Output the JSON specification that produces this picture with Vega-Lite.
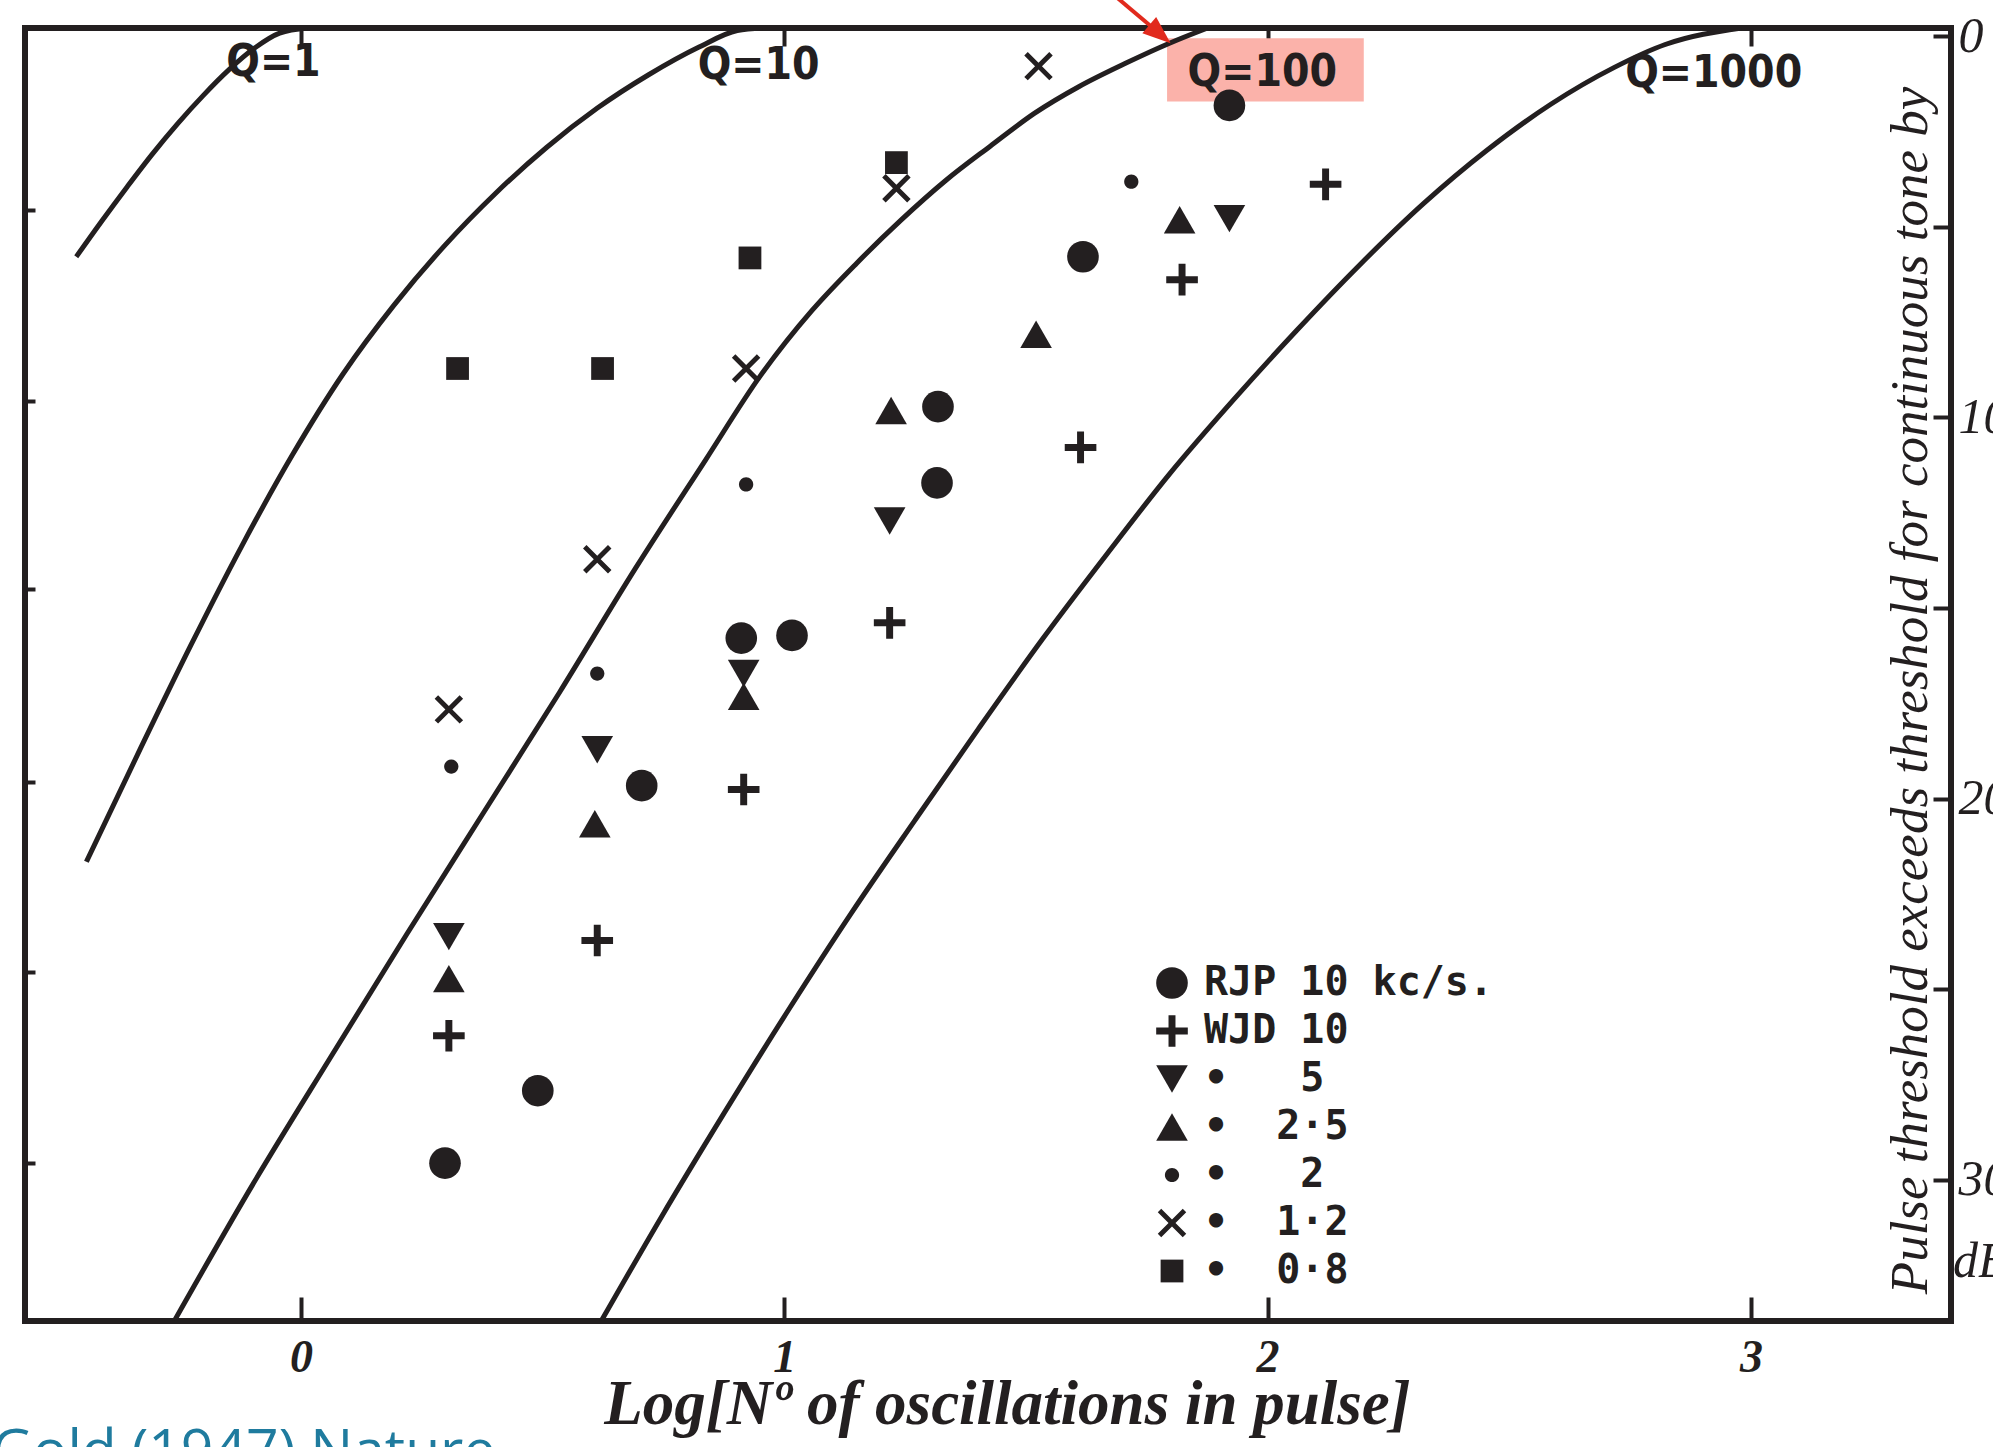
{
  "$schema": "https://vega.github.io/schema/vega-lite/v6.json",
  "width": 1926,
  "height": 1293,
  "autosize": "none",
  "padding": {"left": 25, "top": 28, "right": 42, "bottom": 126},
  "background": "white",
  "config": {
    "view": {"stroke": "#231f20", "strokeWidth": 6},
    "axis": {"domain": false, "grid": false, "tickColor": "#231f20", "tickWidth": 4, "labelColor": "#231f20", "titleColor": "#231f20", "zindex": 1, "labelFlush": false, "labelOverlap": false, "labelBound": false}
  },
  "datasets": {
    "curves": [
      {"q": "1", "i": 0, "x": -0.465, "y": 5.79},
      {"q": "1", "i": 1, "x": -0.4124, "y": 4.857},
      {"q": "1", "i": 2, "x": -0.3598, "y": 3.957},
      {"q": "1", "i": 3, "x": -0.3072, "y": 3.09},
      {"q": "1", "i": 4, "x": -0.2546, "y": 2.29},
      {"q": "1", "i": 5, "x": -0.202, "y": 1.557},
      {"q": "1", "i": 6, "x": -0.1494, "y": 0.89},
      {"q": "1", "i": 7, "x": -0.0968, "y": 0.323},
      {"q": "1", "i": 8, "x": -0.0442, "y": -0.077},
      {"q": "1", "i": 9, "x": 0.0137, "y": -0.21},
      {"q": "10", "i": 0, "x": -0.444, "y": 21.657},
      {"q": "10", "i": 1, "x": -0.3335, "y": 18.723},
      {"q": "10", "i": 2, "x": -0.2283, "y": 15.99},
      {"q": "10", "i": 3, "x": -0.1231, "y": 13.39},
      {"q": "10", "i": 4, "x": -0.0179, "y": 10.99},
      {"q": "10", "i": 5, "x": 0.0873, "y": 8.857},
      {"q": "10", "i": 6, "x": 0.1925, "y": 7.057},
      {"q": "10", "i": 7, "x": 0.2977, "y": 5.49},
      {"q": "10", "i": 8, "x": 0.4029, "y": 4.123},
      {"q": "10", "i": 9, "x": 0.5081, "y": 2.923},
      {"q": "10", "i": 10, "x": 0.6133, "y": 1.89},
      {"q": "10", "i": 11, "x": 0.7185, "y": 1.023},
      {"q": "10", "i": 12, "x": 0.8237, "y": 0.29},
      {"q": "10", "i": 13, "x": 0.9027, "y": -0.143},
      {"q": "10", "i": 14, "x": 0.9553, "y": -0.21},
      {"q": "100", "i": 0, "x": -0.2622, "y": 33.7},
      {"q": "100", "i": 1, "x": -0.0968, "y": 30.057},
      {"q": "100", "i": 2, "x": 0.061, "y": 26.79},
      {"q": "100", "i": 3, "x": 0.2188, "y": 23.557},
      {"q": "100", "i": 4, "x": 0.3766, "y": 20.39},
      {"q": "100", "i": 5, "x": 0.5345, "y": 17.223},
      {"q": "100", "i": 6, "x": 0.6923, "y": 13.957},
      {"q": "100", "i": 7, "x": 0.837, "y": 11.12},
      {"q": "100", "i": 8, "x": 0.95, "y": 8.92},
      {"q": "100", "i": 9, "x": 1.0579, "y": 7.19},
      {"q": "100", "i": 10, "x": 1.1499, "y": 5.957},
      {"q": "100", "i": 11, "x": 1.242, "y": 4.823},
      {"q": "100", "i": 12, "x": 1.334, "y": 3.79},
      {"q": "100", "i": 13, "x": 1.4261, "y": 2.89},
      {"q": "100", "i": 14, "x": 1.5181, "y": 2.023},
      {"q": "100", "i": 15, "x": 1.6102, "y": 1.323},
      {"q": "100", "i": 16, "x": 1.7049, "y": 0.723},
      {"q": "100", "i": 17, "x": 1.797, "y": 0.19},
      {"q": "100", "i": 18, "x": 1.8759, "y": -0.21},
      {"q": "1000", "i": 0, "x": 0.6213, "y": 33.7},
      {"q": "1000", "i": 1, "x": 0.7449, "y": 30.99},
      {"q": "1000", "i": 2, "x": 0.8764, "y": 28.23},
      {"q": "1000", "i": 3, "x": 1.0079, "y": 25.557},
      {"q": "1000", "i": 4, "x": 1.1394, "y": 22.99},
      {"q": "1000", "i": 5, "x": 1.2709, "y": 20.557},
      {"q": "1000", "i": 6, "x": 1.4024, "y": 18.157},
      {"q": "1000", "i": 7, "x": 1.5339, "y": 15.823},
      {"q": "1000", "i": 8, "x": 1.6654, "y": 13.623},
      {"q": "1000", "i": 9, "x": 1.7969, "y": 11.49},
      {"q": "1000", "i": 10, "x": 1.9284, "y": 9.557},
      {"q": "1000", "i": 11, "x": 2.06, "y": 7.723},
      {"q": "1000", "i": 12, "x": 2.1915, "y": 5.99},
      {"q": "1000", "i": 13, "x": 2.323, "y": 4.39},
      {"q": "1000", "i": 14, "x": 2.4545, "y": 2.99},
      {"q": "1000", "i": 15, "x": 2.586, "y": 1.79},
      {"q": "1000", "i": 16, "x": 2.7175, "y": 0.823},
      {"q": "1000", "i": 17, "x": 2.8227, "y": 0.223},
      {"q": "1000", "i": 18, "x": 2.9806, "y": -0.21}
    ],
    "points": [
      {"s": "RJP 10", "x": 1.921, "y": 1.82},
      {"s": "RJP 10", "x": 1.618, "y": 5.79},
      {"s": "RJP 10", "x": 1.318, "y": 9.72},
      {"s": "RJP 10", "x": 1.316, "y": 11.72},
      {"s": "RJP 10", "x": 0.911, "y": 15.79},
      {"s": "RJP 10", "x": 1.016, "y": 15.72},
      {"s": "RJP 10", "x": 0.705, "y": 19.66},
      {"s": "RJP 10", "x": 0.49, "y": 27.66},
      {"s": "RJP 10", "x": 0.298, "y": 29.56},
      {"s": "WJD 10", "x": 2.12, "y": 3.89},
      {"s": "WJD 10", "x": 1.823, "y": 6.39},
      {"s": "WJD 10", "x": 1.613, "y": 10.79},
      {"s": "WJD 10", "x": 1.218, "y": 15.39},
      {"s": "WJD 10", "x": 0.916, "y": 19.76},
      {"s": "WJD 10", "x": 0.613, "y": 23.72},
      {"s": "WJD 10", "x": 0.306, "y": 26.22},
      {"s": "WJD 5", "x": 1.921, "y": 4.79},
      {"s": "WJD 5", "x": 1.218, "y": 12.72},
      {"s": "WJD 5", "x": 0.916, "y": 16.72},
      {"s": "WJD 5", "x": 0.613, "y": 18.72},
      {"s": "WJD 5", "x": 0.306, "y": 23.62},
      {"s": "WJD 2.5", "x": 1.818, "y": 4.82},
      {"s": "WJD 2.5", "x": 1.521, "y": 7.82},
      {"s": "WJD 2.5", "x": 1.221, "y": 9.82},
      {"s": "WJD 2.5", "x": 0.916, "y": 17.32},
      {"s": "WJD 2.5", "x": 0.608, "y": 20.66},
      {"s": "WJD 2.5", "x": 0.306, "y": 24.72},
      {"s": "WJD 2", "x": 1.718, "y": 3.82},
      {"s": "WJD 2", "x": 0.921, "y": 11.76},
      {"s": "WJD 2", "x": 0.613, "y": 16.72},
      {"s": "WJD 2", "x": 0.311, "y": 19.16},
      {"s": "WJD 1.2", "x": 1.526, "y": 0.79},
      {"s": "WJD 1.2", "x": 1.232, "y": 3.99},
      {"s": "WJD 1.2", "x": 0.921, "y": 8.72},
      {"s": "WJD 1.2", "x": 0.613, "y": 13.72},
      {"s": "WJD 1.2", "x": 0.306, "y": 17.66},
      {"s": "WJD 0.8", "x": 1.232, "y": 3.32},
      {"s": "WJD 0.8", "x": 0.929, "y": 5.82},
      {"s": "WJD 0.8", "x": 0.624, "y": 8.72},
      {"s": "WJD 0.8", "x": 0.324, "y": 8.72}
    ],
    "qlabels": [
      {"t": "Q=1", "x": -0.057, "y": 0.72},
      {"t": "Q=10", "x": 0.947, "y": 0.79},
      {"t": "Q=100", "x": 1.989, "y": 0.96},
      {"t": "Q=1000", "x": 2.923, "y": 0.99}
    ],
    "box": [{"x": 1.792, "x2": 2.199, "y": 0.06, "y2": 1.72}],
    "arrow": [{"x": 1.629, "y": -1.645, "x2": 1.758, "y2": -0.26}],
    "arrowhead": [{"x": 1.7993, "y": 0.189}],
    "unit": [{"t": "dB", "x": 3.418, "y": 32.15}],
    "cite": [{"t": "Gold (1947) Nature", "x": -0.64, "y": 37.6}]
  },
  "layer": [
    {
      "data": {"name": "box"},
      "mark": {"type": "rect", "color": "#fbb2aa"},
      "encoding": {
        "x": {"field": "x", "type": "quantitative", "scale": {"domain": [-0.571, 3.414], "nice": false, "zero": false},
          "axis": {"orient": "bottom", "values": [0, 1, 2, 3], "tickSize": -24, "labelFont": "Liberation Serif", "labelFontStyle": "italic", "labelFontWeight": "bold", "labelFontSize": 46, "labelBaseline": "middle", "labelPadding": 60,
            "title": "Log[Nº of oscillations in pulse]", "titleFont": "Liberation Serif", "titleFontStyle": "italic", "titleFontWeight": "bold", "titleFontSize": 63, "titleX": 982, "titleY": 83, "titleAlign": "center", "titleBaseline": "middle"}},
        "x2": {"field": "x2"},
        "y": {"field": "y", "type": "quantitative", "scale": {"domain": [-0.21, 33.7], "reverse": true, "nice": false, "zero": false},
          "axis": {"orient": "right", "values": [0, 5, 10, 15, 20, 25, 30], "tickSize": -18, "labelExpr": "datum.value % 10 == 0 ? datum.label : ''", "labelAlign": "left", "labelBaseline": "middle", "labelPadding": 25, "labelFont": "Liberation Serif", "labelFontStyle": "italic", "labelFontSize": 50,
            "title": "Pulse threshold exceeds threshold for continuous tone by", "titleFont": "Liberation Serif", "titleFontStyle": "italic", "titleFontWeight": "normal", "titleFontSize": 53, "titleAngle": 270, "titleX": -41, "titleY": 662, "titleAlign": "center", "titleBaseline": "middle"}},
        "y2": {"field": "y2"}
      }
    },
    {
      "data": {"name": "curves"},
      "mark": {"type": "line", "color": "#231f20", "strokeWidth": 5, "interpolate": "monotone", "clip": true},
      "encoding": {
        "x": {"field": "x", "type": "quantitative", "scale": {"domain": [-0.571, 3.414], "nice": false, "zero": false},
          "axis": {"orient": "top", "values": [0, 1, 2, 3], "tickSize": -18, "labels": false, "title": null}},
        "y": {"field": "y", "type": "quantitative", "scale": {"domain": [-0.21, 33.7], "reverse": true, "nice": false, "zero": false},
          "axis": {"orient": "left", "values": [4.56, 9.56, 14.49, 19.56, 24.56, 29.56], "tickSize": -10, "labels": false, "title": null}},
        "detail": {"field": "q"},
        "order": {"field": "i", "type": "quantitative"}
      }
    },
    {
      "data": {"name": "points"},
      "mark": {"type": "point", "filled": true, "color": "#231f20", "opacity": 1, "strokeWidth": 0, "size": 1000},
      "encoding": {
        "x": {"field": "x", "type": "quantitative", "scale": {"domain": [-0.571, 3.414], "nice": false, "zero": false}, "axis": null},
        "y": {"field": "y", "type": "quantitative", "scale": {"domain": [-0.21, 33.7], "reverse": true, "nice": false, "zero": false}, "axis": null},
        "shape": {"field": "s", "type": "nominal",
          "scale": {"domain": ["RJP 10", "WJD 10", "WJD 5", "WJD 2.5", "WJD 2", "WJD 1.2", "WJD 0.8"],
            "range": ["circle", "M-1,-0.22H-0.22V-1H0.22V-0.22H1V0.22H0.22V1H-0.22V0.22H-1Z", "triangle-down", "triangle-up", "M0.45,0A0.45,0.45,0,1,1,-0.45,0A0.45,0.45,0,1,1,0.45,0Z", "M-0.9,-0.68L-0.68,-0.9L0,-0.22L0.68,-0.9L0.9,-0.68L0.22,0L0.9,0.68L0.68,0.9L0,0.22L-0.68,0.9L-0.9,0.68L-0.22,0Z", "M-0.72,-0.72H0.72V0.72H-0.72Z"]},
          "legend": {"orient": "none", "legendX": 1127, "legendY": 935, "title": null, "padding": 0, "symbolSize": 1000, "labelFont": "DejaVu Sans Mono", "labelFontWeight": "bold", "labelFontSize": 40, "labelColor": "#231f20", "labelOffset": 12, "rowPadding": 8, "labelLimit": 0, "symbolFillColor": "#231f20", "symbolStrokeColor": "#231f20", "symbolStrokeWidth": 0, "symbolOpacity": 1,
            "labelExpr": "datum.label == 'RJP 10' ? 'RJP\u00a010\u00a0kc/s.' : datum.label == 'WJD 10' ? 'WJD\u00a010' : datum.label == 'WJD 5' ? '\u00a0\u2022\u00a0\u00a0\u00a05' : datum.label == 'WJD 2.5' ? '\u00a0\u2022\u00a0\u00a02\u00b75' : datum.label == 'WJD 2' ? '\u00a0\u2022\u00a0\u00a0\u00a02' : datum.label == 'WJD 1.2' ? '\u00a0\u2022\u00a0\u00a01\u00b72' : '\u00a0\u2022\u00a0\u00a00\u00b78'"}}
      }
    },
    {
      "data": {"name": "qlabels"},
      "mark": {"type": "text", "color": "#231f20", "font": "Liberation Sans Narrow, DejaVu Sans Condensed, Liberation Sans", "fontWeight": "bold", "fontSize": 44, "align": "center", "baseline": "middle"},
      "encoding": {
        "x": {"field": "x", "type": "quantitative", "scale": {"domain": [-0.571, 3.414], "nice": false, "zero": false}, "axis": null},
        "y": {"field": "y", "type": "quantitative", "scale": {"domain": [-0.21, 33.7], "reverse": true, "nice": false, "zero": false}, "axis": null},
        "text": {"field": "t"}
      }
    },
    {
      "data": {"name": "arrow"},
      "mark": {"type": "rule", "color": "#e12a1d", "strokeWidth": 4},
      "encoding": {
        "x": {"field": "x", "type": "quantitative", "scale": {"domain": [-0.571, 3.414], "nice": false, "zero": false}, "axis": null},
        "y": {"field": "y", "type": "quantitative", "scale": {"domain": [-0.21, 33.7], "reverse": true, "nice": false, "zero": false}, "axis": null},
        "x2": {"field": "x2"},
        "y2": {"field": "y2"}
      }
    },
    {
      "data": {"name": "arrowhead"},
      "mark": {"type": "point", "filled": true, "color": "#e12a1d", "opacity": 1, "shape": "M0,0L-0.38,-1L0.38,-1Z", "size": 3136, "angle": 310.4, "strokeWidth": 0},
      "encoding": {
        "x": {"field": "x", "type": "quantitative", "scale": {"domain": [-0.571, 3.414], "nice": false, "zero": false}, "axis": null},
        "y": {"field": "y", "type": "quantitative", "scale": {"domain": [-0.21, 33.7], "reverse": true, "nice": false, "zero": false}, "axis": null}
      }
    },
    {
      "data": {"name": "unit"},
      "mark": {"type": "text", "color": "#231f20", "font": "Liberation Serif", "fontStyle": "italic", "fontSize": 50, "align": "left", "baseline": "middle"},
      "encoding": {
        "x": {"field": "x", "type": "quantitative", "scale": {"domain": [-0.571, 3.414], "nice": false, "zero": false}, "axis": null},
        "y": {"field": "y", "type": "quantitative", "scale": {"domain": [-0.21, 33.7], "reverse": true, "nice": false, "zero": false}, "axis": null},
        "text": {"field": "t"}
      }
    },
    {
      "data": {"name": "cite"},
      "mark": {"type": "text", "color": "#1f7b9e", "font": "Open Sans", "fontSize": 57, "align": "left", "baseline": "alphabetic"},
      "encoding": {
        "x": {"field": "x", "type": "quantitative", "scale": {"domain": [-0.571, 3.414], "nice": false, "zero": false}, "axis": null},
        "y": {"field": "y", "type": "quantitative", "scale": {"domain": [-0.21, 33.7], "reverse": true, "nice": false, "zero": false}, "axis": null},
        "text": {"field": "t"}
      }
    }
  ],
  "resolve": {"axis": {"x": "independent", "y": "independent"}}
}
